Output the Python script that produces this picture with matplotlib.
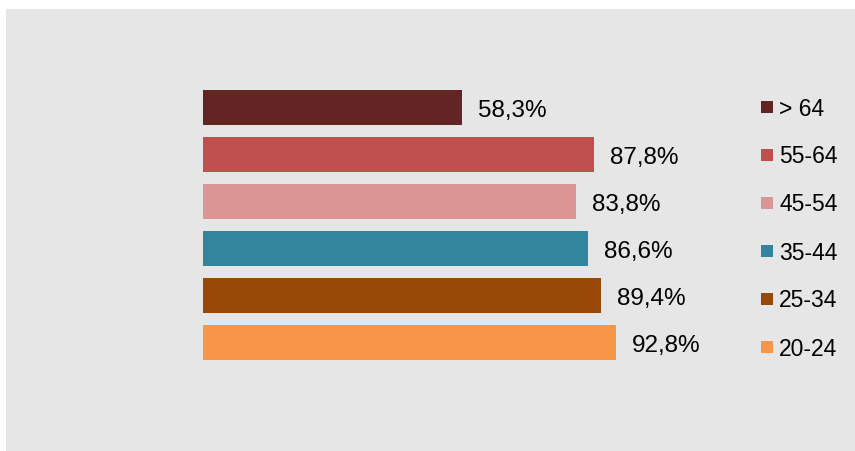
import matplotlib
matplotlib.use("Agg")
import matplotlib.pyplot as plt
from matplotlib.patches import Rectangle

categories = ["> 64", "55-64", "45-54", "35-44", "25-34", "20-24"]
values = [58.3, 87.8, 83.8, 86.6, 89.4, 92.8]
colors = ["#632523", "#c0504d", "#d99694", "#31859c", "#984807", "#f79646"]
value_labels = ["58,3%", "87,8%", "83,8%", "86,6%", "89,4%", "92,8%"]

plt.rcParams['font.family'] = ['Liberation Sans', 'DejaVu Sans']

W, H = 855, 452
fig = plt.figure(figsize=(W / 100, H / 100), dpi=100, facecolor="white")
fig.patches.append(Rectangle((6 / W, 0), 1 - 6 / W, 1 - 10 / H, transform=fig.transFigure,
                             facecolor="#e6e6e6", edgecolor="none", zorder=-5))

ax = fig.add_axes([203 / W, 85 / H, 445 / W, 282 / H])
ax.set_facecolor("none")
ax.set_zorder(2)
n = len(categories)
ypos = [n - 1 - i for i in range(n)]
ax.barh(ypos, values, height=0.76, color=colors, edgecolor="none")
for y, v, lab in zip(ypos, values, value_labels):
    ax.annotate(lab, (v, y), xytext=(11.5, -1.5), textcoords="offset points",
                ha="left", va="center", fontsize=17.5, color="black")
ax.set_xlim(0, 100)
ax.set_ylim(-0.5, n - 0.5)
ax.axis("off")

# legend
leg_y = [108, 156, 204, 252, 300, 348]
for cat, col, yy in zip(categories, colors, leg_y):
    fig.patches.append(Rectangle((761 / W, 1 - (yy + 6) / H), 12 / W, 12 / H,
                                 transform=fig.transFigure, facecolor=col, edgecolor="none",
                                 zorder=3))
    fig.text(779 / W, 1 - (yy + 1) / H, cat, ha="left", va="center", fontsize=16.5,
             color="black", zorder=3)

fig.savefig("out.png", dpi=100, facecolor="white")
